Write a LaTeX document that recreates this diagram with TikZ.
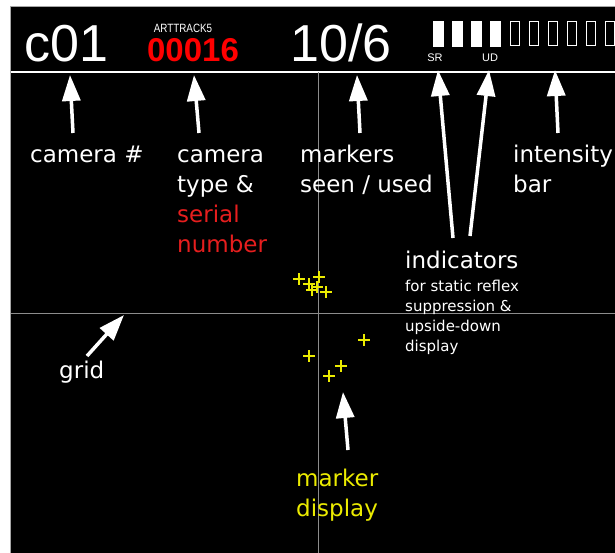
\documentclass[tikz,border=0pt]{standalone}
\usepackage{fontspec}
\setmainfont{DejaVu Sans}
\newfontfamily\hdrfont{Liberation Sans}
\usetikzlibrary{arrows.meta, positioning}
\definecolor{mkyellow}{RGB}{235,235,0}
\definecolor{serialred}{RGB}{230,30,30}

\begin{document}
\begin{tikzpicture}[
    x=1pt, y=-1pt,
    every node/.style={inner sep=0pt, text=white},
    lbl/.style={anchor=base west, align=left, font=\fontsize{23}{30}\selectfont},
    note/.style={anchor=base west, align=left, font=\fontsize{15}{20}\selectfont},
    hdr/.style={anchor=base west, font=\hdrfont\fontsize{52}{52}\selectfont},
    ptr/.style={draw=white, line width=3.5pt, -{Triangle[length=26pt, width=18pt]}},
    gridline/.style={draw=gray!90, line width=1pt},
    plusmark/.style={draw=mkyellow, line width=1.5pt}
]
\useasboundingbox (0,0) rectangle (615,553);
\fill[white] (0,0) rectangle (615,553);

% screen
\fill[black] (10,6) rectangle (615,553);
\draw[gray!70, line width=1.5pt] (10.5,553) |- (615,6.5);
\draw[white, line width=1.5pt] (11,72) -- (615,72);
\draw[gridline] (318.5,72) -- (318.5,553);
\draw[gridline] (11,313.5) -- (615,313.5);

% header
\node[hdr] (camid) at (24,62) {c01};
\node[anchor=base, font=\hdrfont\fontsize{12}{12}\selectfont] (model) at (183,33) {\scalebox{0.82}[1]{ARTTRACK5}};
\node[anchor=base, text=red, font=\hdrfont\bfseries\fontsize{33}{33}\selectfont] (serial) at (193,62) {00016};
\node[hdr] (count) at (290,62) {10/6};
\node[anchor=base, font=\hdrfont\fontsize{11}{11}\selectfont] (sr) at (435,62) {SR};
\node[anchor=base, font=\hdrfont\fontsize{11}{11}\selectfont] (ud) at (490,62) {UD};

% intensity bar
\foreach \i in {0,...,3}
    \fill[white] (433+19*\i,21) rectangle (444+19*\i,47);
\foreach \i in {4,...,9}
    \draw[white, line width=1pt] (434+19*\i,22) rectangle (443+19*\i,46);

% markers
\foreach \x/\y in {299/279, 309/284, 319/277, 312/290, 317/287,
                   326/292, 364/340, 309/356, 341/366, 329/376}
    \draw[plusmark] (\x-6,\y) -- (\x+6,\y) (\x,\y-6) -- (\x,\y+6);

% labels (base = last line)
\node[lbl] (camlbl) at (30,162.7) {camera \#};
\node[lbl] (typelbl) at (177,252.7) {camera\\type \&\\\textcolor{serialred}{serial}\\\textcolor{serialred}{number}};
\node[lbl] (mrklbl) at (300,192.7) {markers\\seen / used};
\node[lbl] (intlbl) at (513,192.7) {intensity\\bar};
\node[lbl] (indlbl) at (405,268.3) {indicators};
\node[note] (indnote) at (405,351.7) {for static reflex\\suppression \&\\upside-down\\display};
\node[lbl] (gridlbl) at (59,378.3) {grid};
\node[lbl, text=mkyellow] (displbl) at (296,516) {marker\\display};

% arrows
\coordinate (camtip) at (70,75);   \coordinate (camtail) at (73,133);
\coordinate (typtip) at (194,75);  \coordinate (typtail) at (199,133);
\coordinate (mrktip) at (357,75);  \coordinate (mrktail) at (360,133);
\coordinate (srtip) at (438,70);   \coordinate (srtail) at (453,238);
\coordinate (udtip) at (489,70);   \coordinate (udtail) at (470,236);
\coordinate (inttip) at (555,70);  \coordinate (inttail) at (558,133);
\coordinate (gridtip) at (124,315); \coordinate (gridtail) at (87,356);
\coordinate (disptip) at (343,392); \coordinate (disptail) at (348,450);

\draw[ptr] (camtail) -- (camtip);
\draw[ptr] (typtail) -- (typtip);
\draw[ptr] (mrktail) -- (mrktip);
\draw[ptr] (srtail) -- (srtip);
\draw[ptr] (udtail) -- (udtip);
\draw[ptr] (inttail) -- (inttip);
\draw[ptr] (gridtail) -- (gridtip);
\draw[ptr] (disptail) -- (disptip);

\end{tikzpicture}
\end{document}
